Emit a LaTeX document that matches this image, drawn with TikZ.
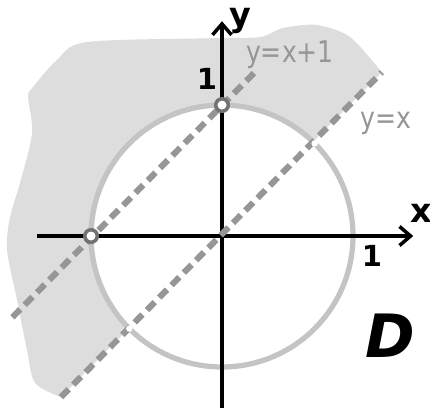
\documentclass[tikz,border=0pt]{standalone}
\usepackage{fontspec}
\setmainfont{DejaVu Sans}
\usetikzlibrary{arrows.meta}
\definecolor{region}{RGB}{221,221,221}
\definecolor{ring}{RGB}{196,196,196}
\definecolor{dashline}{RGB}{150,150,150}
\definecolor{hole}{RGB}{115,115,115}
\tikzset{
  axis/.style={draw=black, line width=2pt, -{Straight Barb[length=2.2mm,width=3.8mm]}},
  unit/.style={draw=ring, line width=3pt, fill=white},
  bound/.style={draw=dashline, line width=3.5pt, dash pattern=on 0.22cm off 0.13cm},
  openpt/.style={circle, draw=hole, line width=2pt, fill=white, inner sep=0pt, minimum size=0.25cm},
  tinypt/.style={circle, fill=white, inner sep=0pt, minimum size=0.13cm},
  axlbl/.style={font=\fontsize{19}{19}\selectfont\bfseries, inner sep=0pt},
  numlbl/.style={font=\fontsize{16.5}{16.5}\selectfont\bfseries, inner sep=0pt},
  eqlbl/.style={text=dashline, font=\fontsize{17}{17}\selectfont, inner sep=0pt}
}
\newcommand{\narrow}[1]{\scalebox{0.84}[1]{#1}}
\begin{document}
\begin{tikzpicture}[x=2.62cm, y=2.62cm]
  \useasboundingbox (-1.695,-1.313) rectangle (1.588,1.802);
  % region D
  \fill[region] plot[smooth, tension=0.5] coordinates {(-1.23,-1.23) (-1.427,-1.122) (-1.489,-0.870)
    (-1.565,-0.489) (-1.641,-0.107) (-1.618,0.145) (-1.542,0.405) (-1.450,0.786) (-1.481,1.061)
    (-1.443,1.137) (-1.260,1.344) (-1.031,1.481) (-0.038,1.511) (0.290,1.519) (0.466,1.588)
    (0.725,1.611) (0.977,1.519) (1.22,1.25)} -- cycle;
  % unit circle
  \coordinate (O) at (0,0);
  \draw[unit] (O) circle[radius=1];
  % axes
  \coordinate (xl) at (-1.41,0);
  \coordinate (xr) at (1.46,0);
  \coordinate (yb) at (0,-1.33);
  \coordinate (yt) at (0,1.64);
  \draw[axis] (xl) -- (xr);
  \draw[axis] (yb) -- (yt);
  % lines y=x and y=x+1
  \coordinate (a1) at (-1.23,-1.23);
  \coordinate (a2) at (1.22,1.25);
  \coordinate (b1) at (-1.6,-0.62);
  \coordinate (b2) at (0.27,1.27);
  \draw[bound] (a1) -- (a2);
  \draw[bound] (b1) -- (b2);
  % points
  \node[openpt] (p1) at (0,1) {};
  \node[openpt] (p2) at (-1,0) {};
  \node[tinypt] (q1) at (0.707,0.707) {};
  \node[tinypt] (q2) at (-0.707,-0.707) {};
  % labels
  \node[axlbl, anchor=base] (ly) at (0.137,1.603) {y};
  \node[axlbl, anchor=base] (lx) at (1.523,0.105) {x};
  \node[numlbl, anchor=base] (l1y) at (-0.115,1.115) {1};
  \node[numlbl, anchor=base] (l1x) at (1.145,-0.235) {1};
  \node[eqlbl, anchor=base] (e1) at (0.519,1.328) {\narrow{y=x+1}};
  \node[eqlbl, anchor=base] (e2) at (1.252,0.824) {\narrow{y=x}};
  \node[font=\fontsize{34}{34}\selectfont\bfseries\itshape, inner sep=0pt, anchor=base] (lD) at (1.282,-0.924) {D};
\end{tikzpicture}
\end{document}
